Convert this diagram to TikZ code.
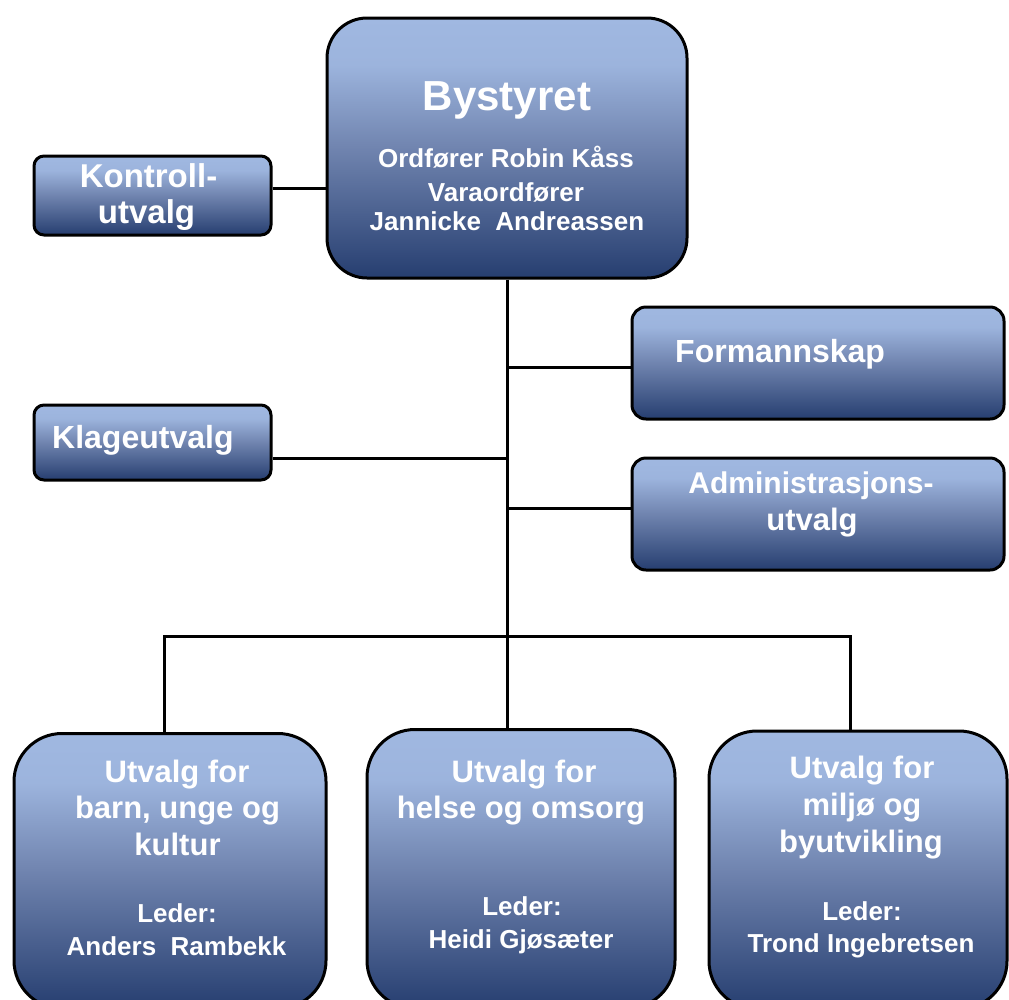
\documentclass[tikz,border=0pt]{standalone}
\usepackage{fontspec}
\setmainfont{Liberation Sans}
\definecolor{blight}{RGB}{160,184,225}
\definecolor{bmid}{RGB}{112,132,175}
\definecolor{bdark}{RGB}{38,62,112}
\pgfdeclareverticalshading{boxshade}{100bp}{color(0bp)=(bdark); color(25bp)=(bdark); color(50bp)=(bmid); color(66bp)=(blight!92!bmid); color(75bp)=(blight); color(100bp)=(blight)}
\newcommand\fsz[1]{\fontsize{#1}{#1}\selectfont}
\tikzset{
  orgbox/.style={draw=black, line width=3pt, shading=boxshade, inner sep=0pt},
  conn/.style={draw=black, line width=3pt},
  txt/.style={text=white, font=\bfseries, anchor=base, inner sep=0pt},
}
\begin{document}
\begin{tikzpicture}[x=1pt, y=-1pt]
\fill[white] (0,0) rectangle (1009,999);
\clip (0,0) rectangle (1009,999);
% boxes
\node[orgbox, rounded corners=40pt, minimum width=360pt, minimum height=260pt] (byst) at (507,148) {};
\node[orgbox, rounded corners=10pt, minimum width=237pt, minimum height=79pt] (kontroll) at (152.5,195.5) {};
\node[orgbox, rounded corners=14pt, minimum width=372pt, minimum height=112pt] (form) at (818,363) {};
\node[orgbox, rounded corners=10pt, minimum width=237pt, minimum height=75pt] (klage) at (152.5,442.5) {};
\node[orgbox, rounded corners=14pt, minimum width=372pt, minimum height=112pt] (admin) at (818,514) {};
\node[orgbox, rounded corners=48pt, minimum width=312pt, minimum height=275pt] (bl) at (170,871) {};
\node[orgbox, rounded corners=48pt, minimum width=308pt, minimum height=279pt] (bm) at (521,869) {};
\node[orgbox, rounded corners=48pt, minimum width=298pt, minimum height=278pt] (br) at (858,870) {};
% connectors
\coordinate (kc) at (300,188);
\coordinate (t1) at (507,367);
\coordinate (t2) at (507,458);
\coordinate (t3) at (507,508);
\coordinate (bus) at (507,636);
\coordinate (busL) at (164,636);
\coordinate (busR) at (850,636);
\draw[conn] (kc -| kontroll.east) -- (kc -| byst.west);
\draw[conn] (byst.south) -- (bus);
\draw[conn] (t1) -- (t1 -| form.west);
\draw[conn] (t2) -- (t2 -| klage.east);
\draw[conn] (t3) -- (t3 -| admin.west);
\draw[conn] (busL |- bl.north) -- (busL) -- (busR) -- (busR |- br.north);
\draw[conn] (bus) -- (bus |- bm.north);
% texts
\node[txt, font=\bfseries\fsz{42}] (bysttitle) at (507,110) {Bystyret};
\node[txt, font=\bfseries\fsz{26}] (byst1) at (506,167) {Ordfører Robin Kåss};
\node[txt, font=\bfseries\fsz{26}] (byst2) at (506,201) {Varaordfører};
\node[txt, font=\bfseries\fsz{26}] (byst3) at (507,230) {Jannicke\ \ Andreassen};
\node[txt, font=\bfseries\fsz{33}] (kon1) at (148.5,187) {Kontroll-};
\node[txt, font=\bfseries\fsz{33}] (kon2) at (146.5,223) {utvalg};
\node[txt, font=\bfseries\fsz{32}, anchor=base west] (formt) at (675,362) {Formannskap};
\node[txt, font=\bfseries\fsz{32}, anchor=base west] (klaget) at (52,448) {Klageutvalg};
\node[txt, font=\bfseries\fsz{30}] (adm1) at (811,493) {Administrasjons-};
\node[txt, font=\bfseries\fsz{31}] (adm2) at (812,530) {utvalg};
\node[txt, font=\bfseries\fsz{31}] (bl1) at (177,782) {Utvalg for};
\node[txt, font=\bfseries\fsz{31}] (bl2) at (177.5,818) {barn, unge og};
\node[txt, font=\bfseries\fsz{31}] (bl3) at (177.5,855) {kultur};
\node[txt, font=\bfseries\fsz{26}] (bl4) at (177,922) {Leder:};
\node[txt, font=\bfseries\fsz{26}] (bl5) at (176.5,955) {Anders\ \ Rambekk};
\node[txt, font=\bfseries\fsz{31}] (bm1) at (524,782) {Utvalg for};
\node[txt, font=\bfseries\fsz{31}] (bm2) at (521,818) {helse og omsorg};
\node[txt, font=\bfseries\fsz{26}] (bm4) at (522,915) {Leder:};
\node[txt, font=\bfseries\fsz{26}] (bm5) at (521,948) {Heidi Gjøsæter};
\node[txt, font=\bfseries\fsz{31}] (br1) at (862,778) {Utvalg for};
\node[txt, font=\bfseries\fsz{31}] (br2) at (862,815) {miljø og};
\node[txt, font=\bfseries\fsz{31}] (br3) at (861,852) {byutvikling};
\node[txt, font=\bfseries\fsz{26}] (br4) at (862,920) {Leder:};
\node[txt, font=\bfseries\fsz{26}] (br5) at (861,952) {Trond Ingebretsen};
\end{tikzpicture}
\end{document}
